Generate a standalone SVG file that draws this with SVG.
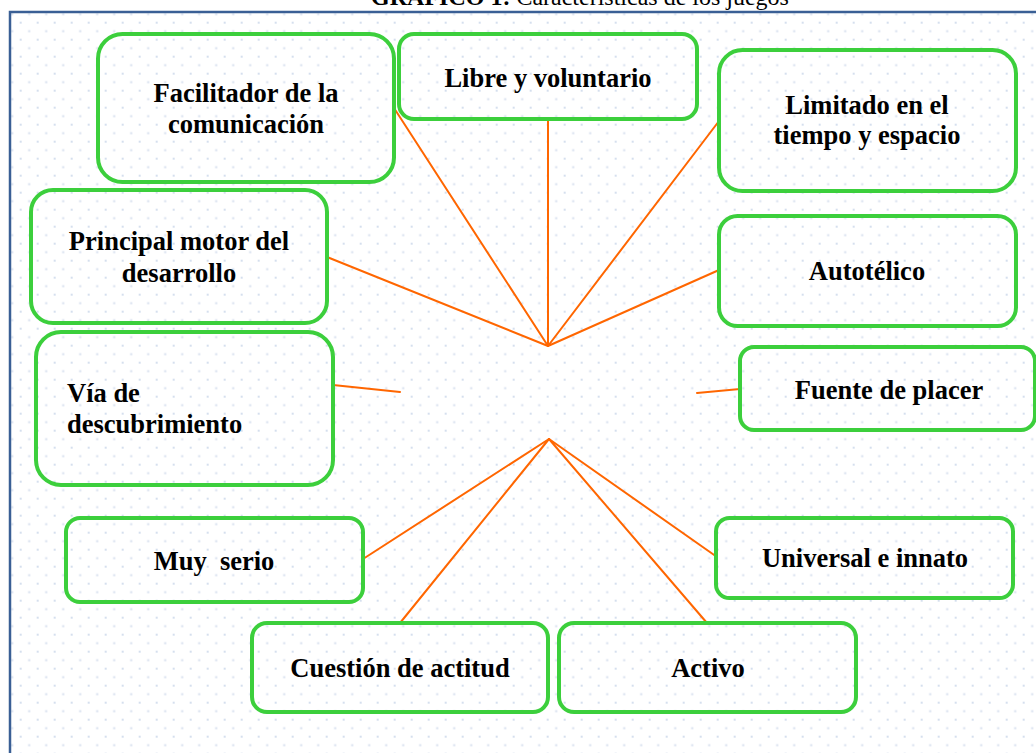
<svg xmlns="http://www.w3.org/2000/svg" width="1036" height="753" viewBox="0 0 1036 753">
<style>
.box{fill:none;stroke:#3ccf3c;stroke-width:4}
.lbl{font-family:"Liberation Serif","Times New Roman",serif;font-weight:bold;font-size:26.5px;fill:#000;text-anchor:middle}
.left{text-anchor:start}
.conn line{stroke:#ff6600;stroke-width:2;stroke-linecap:round}
</style>
<defs>
<pattern id="dots" patternUnits="userSpaceOnUse" x="2.7" y="4.7" width="17" height="17">
<rect x="0" y="0" width="2" height="2" fill="#d5dfee"/>
<rect x="8.5" y="8.5" width="2" height="2" fill="#d5dfee"/>
</pattern>
</defs>
<rect x="0" y="0" width="1036" height="753" fill="#ffffff"/>
<text x="580" y="5" font-family="Liberation Serif,'Times New Roman',serif" font-size="24" text-anchor="middle" fill="#000"><tspan font-weight="bold">GRÁFICO 1:</tspan> Características de los juegos</text>
<rect x="11" y="13" width="1030" height="745" fill="url(#dots)"/>
<rect x="10" y="12" width="1040" height="760" fill="none" stroke="#3a5f95" stroke-width="2.5"/>

<g class="conn" id="connectors">
<line x1="548" y1="346" x2="394" y2="108"/>
<line x1="548" y1="346" x2="548" y2="119"/>
<line x1="548" y1="346" x2="719" y2="121"/>
<line x1="548" y1="346" x2="327" y2="257"/>
<line x1="548" y1="346" x2="719" y2="270"/>
<line x1="333" y1="385" x2="400" y2="392"/>
<line x1="697" y1="393" x2="740" y2="389"/>
<line x1="549" y1="439" x2="363" y2="559"/>
<line x1="549" y1="439" x2="400" y2="623"/>
<line x1="549" y1="439" x2="707" y2="623"/>
<line x1="549" y1="439" x2="717" y2="557"/>
</g>

<g id="n-facilitador">
<rect class="box" x="98" y="34" width="296" height="148" rx="24.5"/>
<text class="lbl" x="246" y="102">Facilitador de la</text>
<text class="lbl" x="246" y="133">comunicación</text>
</g>
<g id="n-libre">
<rect class="box" x="399" y="34" width="298" height="85" rx="15"/>
<text class="lbl" x="548" y="87">Libre y voluntario</text>
</g>
<g id="n-limitado">
<rect class="box" x="719" y="50" width="297" height="141" rx="23.5"/>
<text class="lbl" x="867" y="114">Limitado en el</text>
<text class="lbl" x="867" y="144">tiempo y espacio</text>
</g>
<g id="n-principal">
<rect class="box" x="31" y="190" width="296" height="133" rx="22"/>
<text class="lbl" x="179" y="250">Principal motor del</text>
<text class="lbl" x="179" y="282">desarrollo</text>
</g>
<g id="n-autotelico">
<rect class="box" x="719" y="216" width="297" height="110" rx="18.5"/>
<text class="lbl" x="867" y="280">Autotélico</text>
</g>
<g id="n-via">
<rect class="box" x="36" y="332" width="297" height="153" rx="25"/>
<text class="lbl left" x="67" y="402">Vía de</text>
<text class="lbl left" x="67" y="433">descubrimiento</text>
</g>
<g id="n-fuente">
<rect class="box" x="740" y="347" width="295" height="83" rx="14"/>
<text class="lbl" x="889" y="399">Fuente de placer</text>
</g>
<g id="n-muyserio">
<rect class="box" x="66" y="518" width="297" height="84" rx="14"/>
<text class="lbl" x="214" y="570" xml:space="preserve">Muy  serio</text>
</g>
<g id="n-universal">
<rect class="box" x="716" y="518" width="297" height="80" rx="13.5"/>
<text class="lbl" x="865" y="567">Universal e innato</text>
</g>
<g id="n-cuestion">
<rect class="box" x="252" y="623" width="296" height="89" rx="15"/>
<text class="lbl" x="400" y="677">Cuestión de actitud</text>
</g>
<g id="n-activo">
<rect class="box" x="559" y="623" width="297" height="89" rx="15"/>
<text class="lbl" x="708" y="677">Activo</text>
</g>
</svg>
